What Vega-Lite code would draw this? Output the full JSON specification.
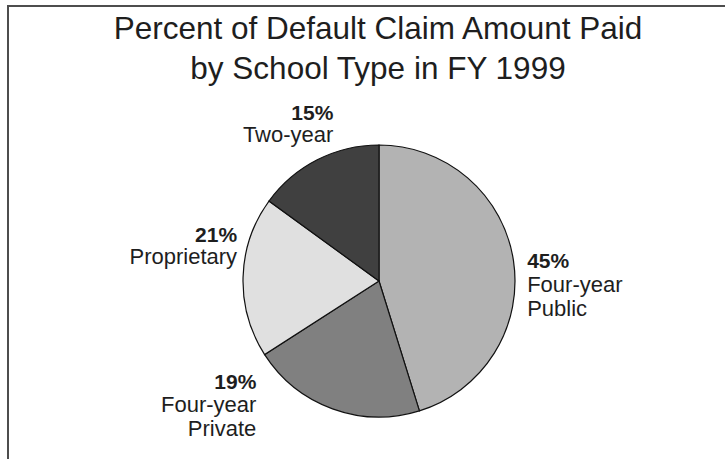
{
  "$schema": "https://vega.github.io/schema/vega-lite/v6.json",
  "width": 742,
  "height": 550,
  "autosize": "none",
  "padding": {"left": 8, "top": 6, "right": -25, "bottom": -97},
  "background": "white",
  "config": {"view": {"stroke": null}, "font": "Liberation Sans"},
  "title": {
    "text": ["Percent of Default Claim Amount Paid", "by School Type in FY 1999"],
    "fontSize": 31.5,
    "fontWeight": "normal",
    "font": "Liberation Sans",
    "color": "#1e1e1e",
    "lineHeight": 40,
    "offset": -80,
    "anchor": "middle",
    "dx": -1
  },
  "data": {
    "values": [
      {"type": "Four-year Public", "share": 45.2, "pct": "45%", "ord": 1},
      {"type": "Four-year Private", "share": 20.7, "pct": "19%", "ord": 2},
      {"type": "Proprietary", "share": 19.1, "pct": "21%", "ord": 3},
      {"type": "Two-year", "share": 15.0, "pct": "15%", "ord": 4}
    ]
  },
  "layer": [
    {
      "data": {"values": [{"frame": "border"}]},
      "mark": {"type": "rect", "fill": null, "stroke": "#4d4d4d", "strokeWidth": 2},
      "encoding": {
        "x": {"value": 0},
        "x2": {"value": "width"},
        "y": {"value": 0},
        "y2": {"value": "height"}
      }
    },
    {
      "mark": {"type": "arc", "outerRadius": 136, "stroke": "#111111", "strokeWidth": 1.2},
      "encoding": {
        "theta": {"field": "share", "type": "quantitative", "stack": true},
        "order": {"field": "ord", "type": "quantitative"},
        "color": {
          "field": "type",
          "type": "nominal",
          "scale": {
            "domain": ["Four-year Public", "Four-year Private", "Proprietary", "Two-year"],
            "range": ["#b3b3b3", "#808080", "#e0e0e0", "#404040"]
          },
          "legend": null
        }
      }
    },
    {
      "mark": {
        "type": "text",
        "radius": 160,
        "fontSize": 21,
        "fontWeight": "bold",
        "font": "Liberation Sans",
        "fill": "#1e1e1e",
        "baseline": "top",
        "align": {"expr": "datum.type === 'Four-year Public' ? 'left' : 'right'"},
        "dx": {"expr": "datum.type === 'Four-year Public' ? -10 : datum.type === 'Four-year Private' ? -68 : datum.type === 'Proprietary' ? 18 : 27"},
        "dy": {"expr": "datum.type === 'Four-year Public' ? -5.6 : datum.type === 'Four-year Private' ? -59 : datum.type === 'Proprietary' ? -51 : -35"}
      },
      "encoding": {
        "theta": {"field": "share", "type": "quantitative", "stack": true},
        "order": {"field": "ord", "type": "quantitative"},
        "text": {"field": "pct", "type": "nominal"}
      }
    },
    {
      "mark": {
        "type": "text",
        "radius": 160,
        "fontSize": 22,
        "font": "Liberation Sans",
        "fill": "#1e1e1e",
        "baseline": "top",
        "lineBreak": " ",
        "lineHeight": 24,
        "align": {"expr": "datum.type === 'Four-year Public' ? 'left' : 'right'"},
        "dx": {"expr": "datum.type === 'Four-year Public' ? -10 : datum.type === 'Four-year Private' ? -68 : datum.type === 'Proprietary' ? 18 : 27"},
        "dy": {"expr": "datum.type === 'Four-year Public' ? 17.6 : datum.type === 'Four-year Private' ? -36 : datum.type === 'Proprietary' ? -29 : -13"}
      },
      "encoding": {
        "theta": {"field": "share", "type": "quantitative", "stack": true},
        "order": {"field": "ord", "type": "quantitative"},
        "text": {"field": "type", "type": "nominal"}
      }
    }
  ]
}
